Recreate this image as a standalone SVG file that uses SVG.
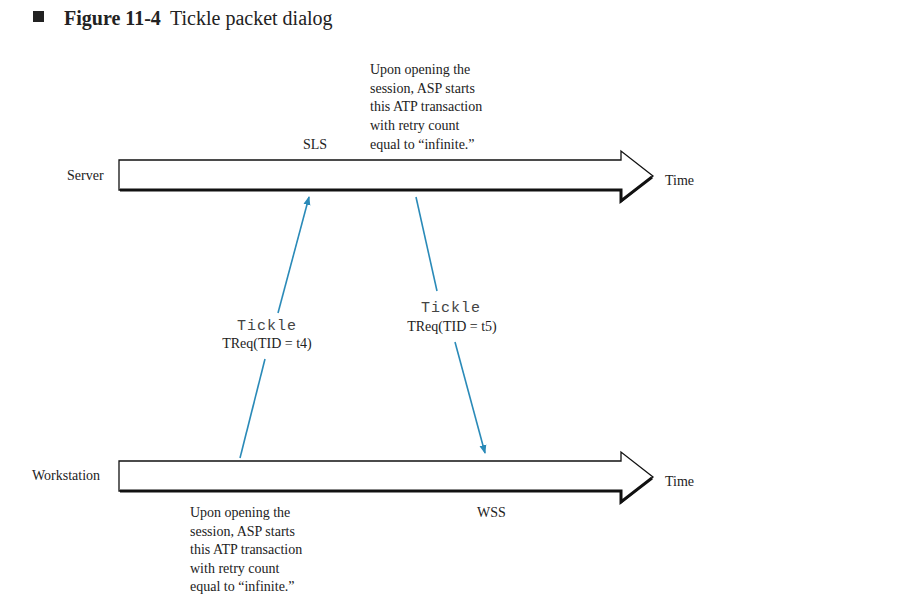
<svg xmlns="http://www.w3.org/2000/svg" width="922" height="612" viewBox="0 0 922 612">
<style>
.serif{font-family:"Liberation Serif","Times New Roman",serif;font-size:14px;fill:#222}
.mono{font-family:"Liberation Mono","Courier New",monospace;font-size:15px;letter-spacing:1px;fill:#444}
.arr{fill:#fff;stroke:#111;stroke-width:1.3;stroke-linejoin:miter}
.shadow{fill:none;stroke:#111;stroke-width:3;stroke-linejoin:miter}
.msg{stroke:#2a8ab8;stroke-width:1.6;fill:none}
</style>
<defs>
<marker id="ah" markerWidth="10" markerHeight="10" refX="8" refY="5" orient="auto" markerUnits="userSpaceOnUse">
<path d="M0,1.5 L9,5 L0,8.5 Z" fill="#2a8ab8"/>
</marker>
</defs>
<rect width="922" height="612" fill="#fff"/>
<g id="title">
<rect x="33" y="11" width="11" height="11" fill="#222"/>
<text x="64" y="25" style="font-family:'Liberation Serif','Times New Roman',serif;font-size:20px;font-weight:bold;fill:#222">Figure 11-4</text>
<text x="170" y="25" style="font-family:'Liberation Serif','Times New Roman',serif;font-size:20px;fill:#222">Tickle packet dialog</text>
</g>
<g id="server">
<text x="67" y="180" class="serif">Server</text>
<polygon class="arr" points="119,160 621,160 621,151 653,176 621,202 621,190 119,190"/>
<polyline class="shadow" points="120,190 621,190 621,201 652,177"/>
<text x="665" y="185" class="serif">Time</text>
</g>
<g id="workstation">
<text x="32" y="480" class="serif">Workstation</text>
<polygon class="arr" points="119,461 621,461 621,452 653,477 621,503 621,491 119,491"/>
<polyline class="shadow" points="120,491 621,491 621,502 652,478"/>
<text x="665" y="486" class="serif">Time</text>
</g>
<g id="connectors">
<line class="msg" x1="240" y1="458" x2="265" y2="359"/>
<line class="msg" x1="278" y1="313" x2="309" y2="197" marker-end="url(#ah)"/>
<line class="msg" x1="416" y1="197" x2="437" y2="291"/>
<line class="msg" x1="455" y1="342" x2="485" y2="453" marker-end="url(#ah)"/>
</g>
<g id="label-t4">
<text x="267" y="330" class="mono" text-anchor="middle">Tickle</text>
<text x="267" y="348" class="serif" text-anchor="middle">TReq(TID = t4)</text>
</g>
<g id="label-t5">
<text x="451" y="312" class="mono" text-anchor="middle">Tickle</text>
<text x="452" y="331" class="serif" text-anchor="middle">TReq(TID = t5)</text>
</g>
<g id="sls"><text x="303" y="149" class="serif">SLS</text></g>
<g id="note-top">
<text x="370" y="74" class="serif">Upon opening the</text>
<text x="370" y="93" class="serif">session, ASP starts</text>
<text x="370" y="111" class="serif">this ATP transaction</text>
<text x="370" y="130" class="serif">with retry count</text>
<text x="370" y="149" class="serif">equal to “infinite.”</text>
</g>
<g id="wss"><text x="477" y="517" class="serif">WSS</text></g>
<g id="note-bottom">
<text x="190" y="517" class="serif">Upon opening the</text>
<text x="190" y="536" class="serif">session, ASP starts</text>
<text x="190" y="554" class="serif">this ATP transaction</text>
<text x="190" y="573" class="serif">with retry count</text>
<text x="190" y="591" class="serif">equal to “infinite.”</text>
</g>
</svg>
